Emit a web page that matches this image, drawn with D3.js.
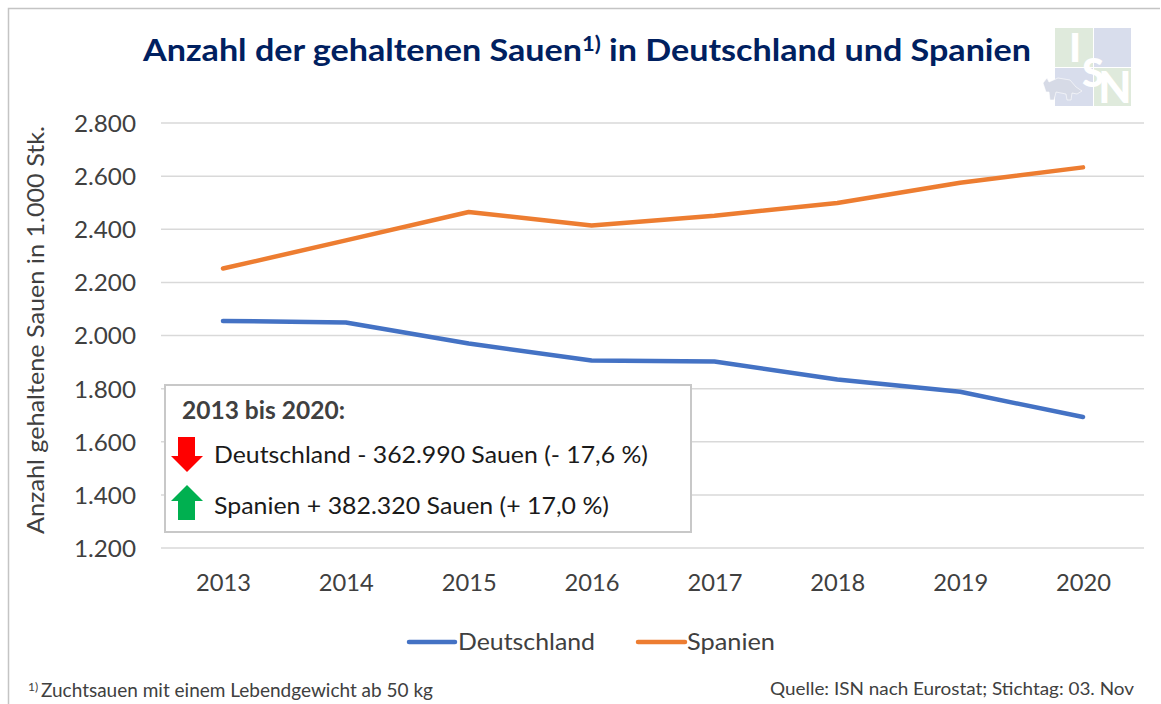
<!DOCTYPE html>
<html><head><meta charset="utf-8">
<script src="https://cdn.jsdelivr.net/npm/d3@7"></script>
<style>html,body{margin:0;padding:0;background:#fff}svg{display:block}text{font-family:"Lato","Open Sans",sans-serif}</style>
</head><body><svg id="c" width="1161" height="704"></svg>
<script>
const years = [2013,2014,2015,2016,2017,2018,2019,2020];
const deutschland = [2055,2049,1970,1906,1902,1834,1788,1693];
const spanien = [2252,2358,2465,2414,2451,2499,2575,2633];
const yTicks = [1200,1400,1600,1800,2000,2200,2400,2600,2800];
const seriesNames = ["Deutschland","Spanien"];
const colors = ["#4472c4","#ed7d31"];
const svg = d3.select("#c");
const x = d3.scalePoint().domain(years).range([223,1083]);
const y = d3.scaleLinear().domain([1200,2800]).range([548,123]);
const fmt = v => d3.format(",")(v).replace(",",".");

svg.append("path").attr("d","M8.5,704V8.5H1160").attr("fill","none").attr("stroke","#c4c4c4").attr("stroke-width",1.5);

svg.append("text").attr("x",587).attr("y",61).attr("text-anchor","middle").attr("fill","#002060")
  .attr("font-weight",700).attr("font-size",31).attr("textLength",888).attr("lengthAdjust","spacingAndGlyphs")
  .html('Anzahl der gehaltenen Sauen<tspan dy="-10" font-size="20">1)</tspan><tspan dy="10"> in Deutschland und Spanien</tspan>');

// logo
const logo = svg.append("g");
[[1055,28,"#dfeadc",38,39],[1094,28,"#d8ddec",37,39],[1055,68,"#d8ddec",38,38],[1094,68,"#dfeadc",37,38]].forEach(d=>
  logo.append("rect").attr("x",d[0]).attr("y",d[1]).attr("width",d[3]).attr("height",d[4]).attr("fill",d[2]));
logo.append("path").attr("d","M1043,83 L1047,78 L1049,82 L1058,78 L1070,80 L1076,87 L1082,91 L1077,94 L1072,93 L1071,100 L1067,100 L1066,94 L1056,92 L1054,100 L1050,100 L1049,92 L1046,92 Z").attr("fill","#d6dae6").attr("stroke","#fff").attr("stroke-width",.6);
[["I",1075,62,40],["S",1093,87,40],["N",1115,103,43]].forEach(d=>
  logo.append("text").attr("x",d[1]).attr("y",d[2]).attr("text-anchor","middle").attr("fill","#fff").attr("font-weight",900).attr("font-size",d[3]).text(d[0]));

svg.append("g").selectAll("line").data(yTicks).join("line")
  .attr("x1",161).attr("x2",1144).attr("y1",d=>y(d)).attr("y2",d=>y(d)).attr("stroke","#d9d9d9").attr("stroke-width",1.5);

const yAxis = svg.append("g").attr("transform","translate(136,0)")
  .call(d3.axisLeft(y).tickValues(yTicks).tickFormat(fmt).tickSize(0).tickPadding(0));
yAxis.select(".domain").remove();
yAxis.selectAll("text").attr("font-size",24).attr("fill","#404040").attr("textLength",62).attr("lengthAdjust","spacingAndGlyphs").attr("dy",".35em");

const xAxis = svg.append("g").attr("transform","translate(0,583)")
  .call(d3.axisBottom(x).tickFormat(d3.format("d")).tickSize(0).tickPadding(0));
xAxis.select(".domain").remove();
xAxis.selectAll("text").attr("font-size",24).attr("fill","#404040").attr("dy",".35em").attr("textLength",55).attr("lengthAdjust","spacingAndGlyphs");

svg.append("text").attr("transform","translate(44,330) rotate(-90)").attr("text-anchor","middle").attr("fill","#404040")
  .attr("font-size",22.5).attr("textLength",408).attr("lengthAdjust","spacingAndGlyphs").text("Anzahl gehaltene Sauen in 1.000 Stk.");

const line = d3.line().x((d,i)=>x(years[i])).y(d=>y(d));
[deutschland,spanien].forEach((s,i)=>svg.append("path").attr("d",line(s)).attr("fill","none").attr("stroke",colors[i]).attr("stroke-width",4.5).attr("stroke-linecap","round").attr("stroke-linejoin","round"));

// legend
[[409,455,0,458,137],[638,685,1,687,88]].forEach(d=>{
  svg.append("line").attr("x1",d[0]).attr("x2",d[1]).attr("y1",642).attr("y2",642).attr("stroke",colors[d[2]]).attr("stroke-width",4.5).attr("stroke-linecap","round");
  svg.append("text").attr("x",d[3]).attr("y",650).attr("font-size",24).attr("fill","#404040").attr("textLength",d[4]).attr("lengthAdjust","spacingAndGlyphs").text(seriesNames[d[2]]);
});

// box
svg.append("rect").attr("x",165).attr("y",385).attr("width",526).attr("height",147).attr("fill","#fff").attr("stroke","#c8c8c8").attr("stroke-width",2);
svg.append("text").attr("x",182).attr("y",419).attr("font-size",24).attr("font-weight",700).attr("fill","#404040").attr("textLength",163).attr("lengthAdjust","spacingAndGlyphs").text("2013 bis 2020:");
svg.append("text").attr("x",214).attr("y",463).attr("font-size",24).attr("fill","#1a1a1a").attr("textLength",434).attr("lengthAdjust","spacingAndGlyphs").text("Deutschland - 362.990 Sauen (- 17,6 %)");
svg.append("text").attr("x",214).attr("y",514).attr("font-size",24).attr("fill","#1a1a1a").attr("textLength",395).attr("lengthAdjust","spacingAndGlyphs").text("Spanien + 382.320 Sauen (+ 17,0 %)");
svg.append("path").attr("d","M178,437H195V456H203L187,472L171,456H178Z").attr("fill","#ff0000");
svg.append("path").attr("d","M187,485L203,501H195V520H178V501H171Z").attr("fill","#00b050");

// footnotes
svg.append("text").attr("x",28).attr("y",691).attr("font-size",12).attr("fill","#404040").text("1)");
svg.append("text").attr("x",41).attr("y",697).attr("font-size",18.5).attr("fill","#404040").attr("textLength",392).attr("lengthAdjust","spacingAndGlyphs").text("Zuchtsauen mit einem Lebendgewicht ab 50 kg");
svg.append("text").attr("x",770).attr("y",695).attr("font-size",18).attr("fill","#404040").attr("textLength",364).attr("lengthAdjust","spacingAndGlyphs").text("Quelle: ISN nach Eurostat; Stichtag: 03. Nov");
</script></body></html>
